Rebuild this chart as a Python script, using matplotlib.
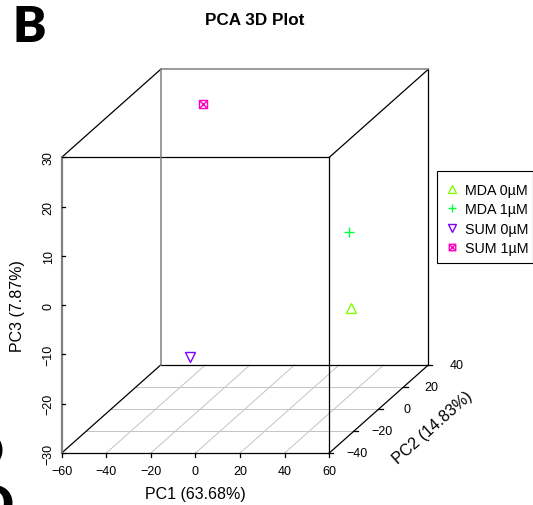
import numpy as np
import matplotlib
matplotlib.use("Agg")
import matplotlib.pyplot as plt
from matplotlib.path import Path
from matplotlib.patches import Rectangle

plt.rcParams['font.family'] = ['Liberation Sans', 'DejaVu Sans']

# ---------------- data ----------------
groups = ["MDA 0µM", "MDA 1µM", "SUM 0µM", "SUM 1µM"]
pc1 = [53.1, 52.3, -35.8, -35.5]
pc2 = [-10.0, -10.0, 20.0, 30.0]
pc3 = [-7.3, 8.2, -24.0, 25.2]
colors = ["#80FF00", "#00FF40", "#8000FF", "#FF00BF"]

x_ticks = [-60, -40, -20, 0, 20, 40, 60]
y_ticks = [-40, -20, 0, 20, 40]
z_ticks = [-30, -20, -10, 0, 10, 20, 30]
x_lim = (-60, 60)
y_lim = (-40, 40)
z_lim = (-30, 30)
x_label = "PC1 (63.68%)"
y_label = "PC2 (14.83%)"
z_label = "PC3 (7.87%)"
title = "PCA 3D Plot"

# ---------------- layout / projection ----------------
W, H, DPI = 533, 506, 100
PX_U = 2.23      # pixels per PC1 unit
PX_V = 4.928     # pixels per PC3 unit
DEP_DX = 1.2375  # pixels per PC2 unit (to the right)
DEP_DY = 1.1     # pixels per PC2 unit (upward)
KU = DEP_DX / PX_U
KV = DEP_DY / PX_V
ORIGIN_PX = (61.7, 454.0)  # front-bottom-left corner in pixels (from top)


def proj(x, y, z):
    x = np.asarray(x, float); y = np.asarray(y, float); z = np.asarray(z, float)
    return x + (y - y_lim[0]) * KU, z + (y - y_lim[0]) * KV


fig = plt.figure(figsize=(W / DPI, H / DPI), dpi=DPI)
ax = fig.add_axes([0, 0, 1, 1])
ax.axis('off')
ax.set_xlim(x_lim[0] - ORIGIN_PX[0] / PX_U, x_lim[0] + (W - ORIGIN_PX[0]) / PX_U)
ax.set_ylim(z_lim[0] - (H - ORIGIN_PX[1]) / PX_V, z_lim[0] + ORIGIN_PX[1] / PX_V)

grid_c = "#c4c4c4"
# grid on the floor
for gx in x_ticks[1:-1]:
    u, v = proj([gx, gx], list(y_lim), [z_lim[0]] * 2)
    ax.plot(u, v, color=grid_c, lw=0.7, zorder=1)
for gy in y_ticks[1:-1]:
    u, v = proj(list(x_lim), [gy, gy], [z_lim[0]] * 2)
    ax.plot(u, v, color=grid_c, lw=0.7, zorder=1)

x0, x1 = x_lim; y0, y1 = y_lim; z0, z1 = z_lim
black_edges = [
    ((x0, x1), (y0, y0), (z1, z1)),  # front top
    ((x1, x1), (y0, y0), (z0, z1)),  # front right
    ((x0, x1), (y0, y0), (z0, z0)),  # front bottom
    ((x1, x1), (y1, y1), (z0, z1)),  # back right
    ((x0, x1), (y1, y1), (z0, z0)),  # back bottom
    ((x0, x0), (y0, y1), (z1, z1)),  # top-left depth
    ((x1, x1), (y0, y1), (z1, z1)),  # top-right depth
    ((x0, x0), (y0, y1), (z0, z0)),  # bottom-left depth
    ((x1, x1), (y0, y1), (z0, z0)),  # PC2 axis
]
grey_edges = [
    ((x0, x1), (y1, y1), (z1, z1)),  # back top
    ((x0, x0), (y1, y1), (z0, z1)),  # back left
]
for e in black_edges:
    u, v = proj(*e)
    ax.plot(u, v, color="black", lw=0.9, zorder=2)
for e in grey_edges:
    u, v = proj(*e)
    ax.plot(u, v, color="#808080", lw=1.1, zorder=2)
u, v = proj((x0, x0), (y0, y0), (z0, z1))
ax.plot(u, v, color="#808080", lw=1.6, zorder=2)  # PC3 axis

tick_fs = 9
# PC1 ticks
for t in x_ticks:
    u, v = proj(t, y0, z0)
    ax.plot([u, u], [v, v - 3.5 / PX_V], color="black", lw=0.9)
    ax.annotate(f"{t}".replace("-", "\u2212"), (u, v), xytext=(0, -18),
                textcoords="offset pixels", ha="center", va="center", fontsize=tick_fs)
# PC3 ticks
for t in z_ticks:
    u, v = proj(x0, y0, t)
    ax.plot([u, u + 3 / PX_U], [v, v], color="black", lw=0.9)
    ax.annotate(f"{t}".replace("-", "\u2212"), (u, v), xytext=(-13, 0),
                textcoords="offset pixels", ha="center", va="center",
                rotation=90, fontsize=tick_fs)
# PC2 ticks
for t in y_ticks:
    u, v = proj(x1, t, z0)
    ax.plot([u - 1 / PX_U, u + 4 / PX_U], [v, v], color="black", lw=0.9)
    ax.annotate(f"{t}".replace("-", "\u2212"), (u, v), xytext=(28, 0),
                textcoords="offset pixels", ha="center", va="center", fontsize=tick_fs)

lab_fs = 11.5
u, v = proj((x0 + x1) / 2, y0, z0)
ax.annotate(x_label, (u, v), xytext=(0, -41), textcoords="offset pixels",
            ha="center", va="center", fontsize=lab_fs)
u, v = proj(x0, y0, (z0 + z1) / 2)
ax.annotate(z_label, (u, v), xytext=(-44.5, 0), textcoords="offset pixels",
            ha="center", va="center", rotation=90, fontsize=lab_fs)
u, v = proj(x1, (y0 + y1) / 2, z0)
ang = np.degrees(np.arctan2(DEP_DY, DEP_DX))
ax.annotate(y_label, (u, v), xytext=(54, -18), textcoords="offset pixels",
            ha="center", va="center", rotation=ang, rotation_mode="anchor", fontsize=lab_fs)

# points
box_x = Path([(-1, -1), (1, -1), (1, 1), (-1, 1), (-1, -1),
              (-1, -1), (1, 1), (-1, 1), (1, -1)],
             [Path.MOVETO, Path.LINETO, Path.LINETO, Path.LINETO, Path.CLOSEPOLY,
              Path.MOVETO, Path.LINETO, Path.MOVETO, Path.LINETO])
markers = ["^", "+", "v", box_x]
sizes = [7, 7.5, 7, 5.8]
for i, g in enumerate(groups):
    u, v = proj([pc1[i]], [pc2[i]], [pc3[i]])
    ax.plot(u, v, linestyle="none", marker=markers[i], ms=sizes[i],
            mfc="none", mec=colors[i], mew=1.0, label=g, zorder=3)

# legend (frame drawn separately to mimic R's asymmetric padding)
LEG_L, LEG_T, LEG_R, LEG_B = 437, 172, 532.5, 264
leg = ax.legend(loc="upper left", bbox_to_anchor=(LEG_L / W, 1 - LEG_T / H),
                bbox_transform=fig.transFigure, borderaxespad=0, fontsize=10.3,
                frameon=False, handlelength=0.42, handletextpad=0.7,
                borderpad=0.82, labelspacing=0.38, markerscale=0.8, numpoints=1)
fig.patches.append(Rectangle((LEG_L / W, 1 - LEG_B / H), (LEG_R - LEG_L) / W,
                             (LEG_B - LEG_T) / H, transform=fig.transFigure,
                             fill=False, edgecolor="black", lw=0.8))

fig.text(254.5 / W, 1 - 20.5 / H, title, ha="center", va="center",
         fontsize=12.3, fontweight="bold")
fig.text(12.5 / W, 1 - 41.7 / H, "B", ha="left", va="baseline",
         fontsize=36, fontweight="heavy", family="Lato")
fig.text(3.5 / W, 1 - 468 / H, "D", ha="right", va="baseline",
         fontsize=36, fontweight="heavy", family="Lato")
fig.text(13.5 / W, 1 - 521 / H, "D", ha="right", va="baseline",
         fontsize=36, fontweight="heavy", family="Lato")

fig.savefig("out.png", dpi=DPI)
